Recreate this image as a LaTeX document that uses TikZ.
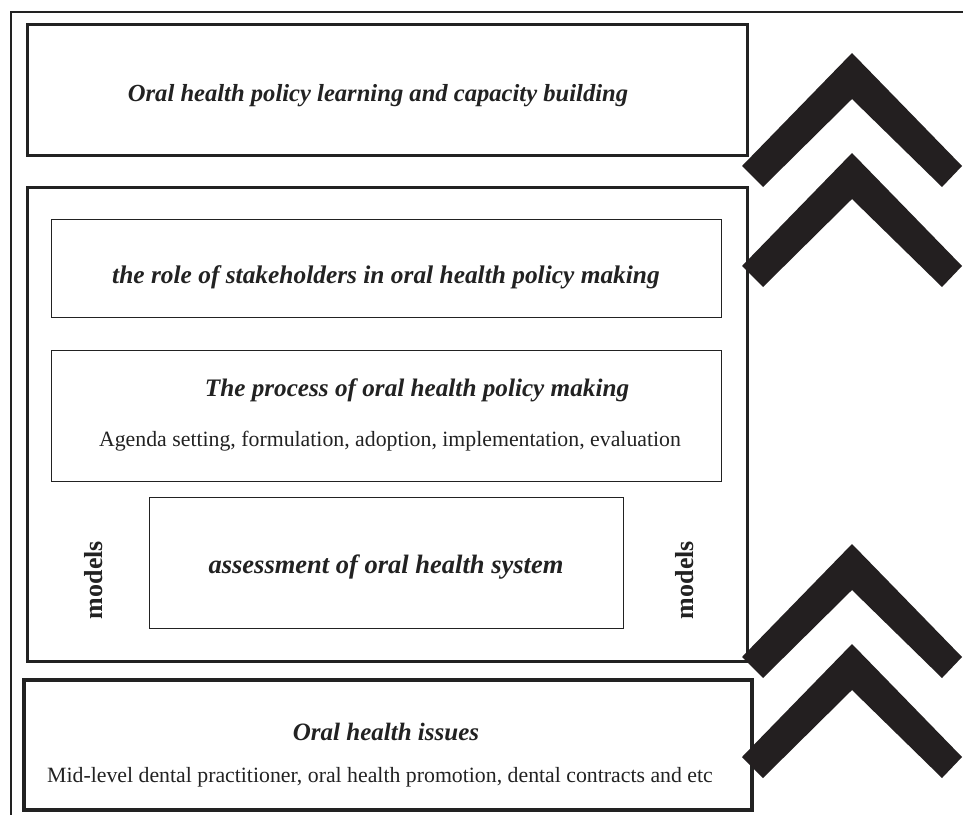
\documentclass[tikz,border=0pt]{standalone}
\usepackage{fontspec}
\setmainfont{Liberation Serif}
\definecolor{ink}{HTML}{222222}
\definecolor{chevink}{HTML}{231F20}
\begin{document}
\begin{tikzpicture}[x=1pt,y=-1pt,
  frame/.style={draw=ink,line width=1.6pt},
  bigbox/.style={draw=ink,line width=3pt},
  smallbox/.style={draw=ink,line width=1.4pt},
  title/.style={text=ink,font=\fontsize{24.6}{28}\selectfont\bfseries\itshape,inner sep=0pt},
  plain/.style={text=ink,font=\fontsize{21.8}{25}\selectfont,inner sep=0pt},
  side/.style={text=ink,font=\fontsize{26}{30}\selectfont\bfseries,inner sep=0pt,rotate=90},
  chev/.style={fill=chevink}]
\useasboundingbox (0,0) rectangle (963,814);
\fill[white] (0,0) rectangle (963,814);
% outer frame (runs off the picture at right and bottom)
\draw[frame] (11,830) -- (11,12) -- (980,12);
% boxes
\node[bigbox,line width=2.6pt,minimum width=720pt,minimum height=131pt,anchor=north west] (top) at (26,23) {};
\node[bigbox,minimum width=720pt,minimum height=474pt,anchor=north west] (mid) at (26,186) {};
\node[smallbox,minimum width=670pt,minimum height=98pt,anchor=north west] (stake) at (51,219) {};
\node[smallbox,minimum width=670pt,minimum height=131pt,anchor=north west] (proc) at (51,350) {};
\node[smallbox,minimum width=474pt,minimum height=131pt,anchor=north west] (assess) at (149,497) {};
\node[bigbox,line width=3.6pt,minimum width=728pt,minimum height=130pt,anchor=north west] (issues) at (22,678) {};
% texts
\node[title] (t1) at (378,96) {Oral health policy learning and capacity building};
\node[title,font=\fontsize{25.4}{29}\selectfont\bfseries\itshape] (t2) at (386,277) {the role of stakeholders in oral health policy making};
\node[title,font=\fontsize{25.2}{29}\selectfont\bfseries\itshape] (t3) at (417,390) {The process of oral health policy making};
\node[plain] (t3b) at (390,441) {Agenda setting, formulation, adoption, implementation, evaluation};
\node[title,font=\fontsize{26.5}{30}\selectfont\bfseries\itshape] (t4) at (386,567) {assessment of oral health system};
\node[side] (m1) at (94,580) {models};
\node[side] (m2) at (685,580) {models};
\node[title,font=\fontsize{25}{29}\selectfont\bfseries\itshape] (t5) at (386,732) {Oral health issues};
\node[plain] (t5b) at (380,777) {Mid-level dental practitioner, oral health promotion, dental contracts and etc};
% chevrons
\foreach \a in {53,153,544,644}{
  \fill[chev] (852,\a) -- ++(110,113) -- ++(-20,21) -- (852,\a+46) -- (763,\a+134) -- (742,\a+113) -- cycle;
}
\end{tikzpicture}
\end{document}
